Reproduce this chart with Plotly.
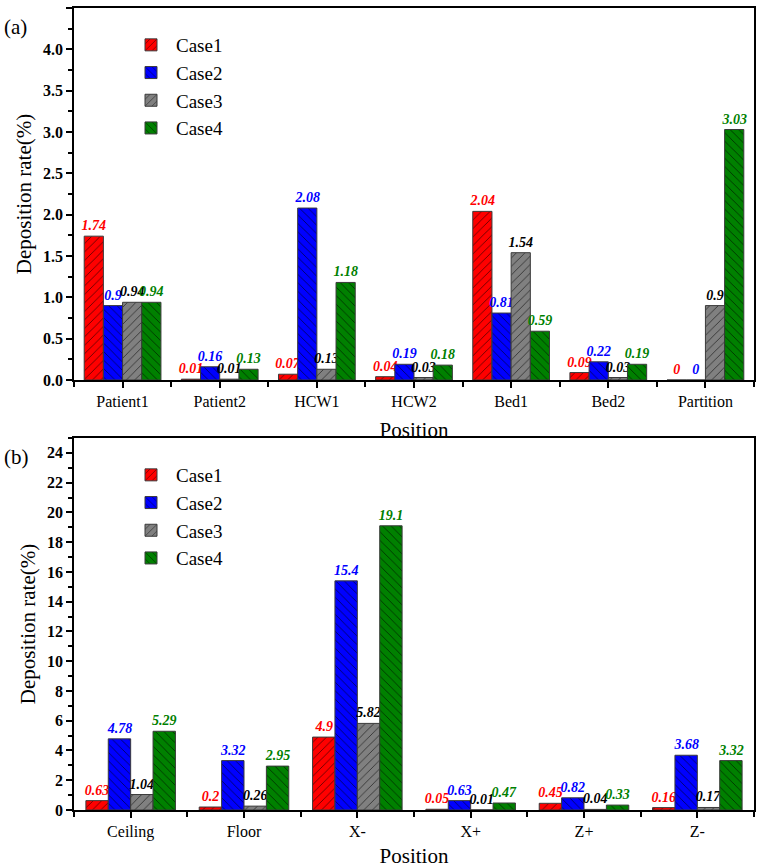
import plotly.graph_objects as go

# ---------------- data ----------------
top_categories = ["Patient1", "Patient2", "HCW1", "HCW2", "Bed1", "Bed2", "Partition"]
top_case1 = [1.74, 0.01, 0.07, 0.04, 2.04, 0.09, 0]
top_case2 = [0.9, 0.16, 2.08, 0.19, 0.81, 0.22, 0]
top_case3 = [0.94, 0.01, 0.13, 0.03, 1.54, 0.03, 0.9]
top_case4 = [0.94, 0.13, 1.18, 0.18, 0.59, 0.19, 3.03]

bottom_categories = ["Ceiling", "Floor", "X-", "X+", "Z+", "Z-"]
bottom_case1 = [0.63, 0.2, 4.9, 0.05, 0.45, 0.16]
bottom_case2 = [4.78, 3.32, 15.4, 0.63, 0.82, 3.68]
bottom_case3 = [1.04, 0.26, 5.82, 0.01, 0.04, 0.17]
bottom_case4 = [5.29, 2.95, 19.1, 0.47, 0.33, 3.32]

series_names = ["Case1", "Case2", "Case3", "Case4"]
bar_colors = ["#FF0000", "#0000FF", "#808080", "#008000"]
label_colors = ["#FF0000", "#0000FF", "#000000", "#008000"]
pattern_shapes = ["/", "\\", "/", "\\"]

# ---------------- layout helpers ----------------
W, H = 757, 868
FONT = "Liberation Serif"


def fx(p):
    return p / W


def fy(p):
    return 1 - p / H


fig = go.Figure()

panels = [
    (top_categories, [top_case1, top_case2, top_case3, top_case4], "x", "y", "legend"),
    (bottom_categories, [bottom_case1, bottom_case2, bottom_case3, bottom_case4], "x2", "y2", "legend2"),
]

for cats, series, xa, ya, lg in panels:
    xs = list(range(len(cats)))
    for i, vals in enumerate(series):
        fig.add_trace(go.Bar(
            x=xs, y=vals, name=series_names[i],
            xaxis=xa, yaxis=ya, legend=lg, showlegend=True,
            marker=dict(
                color=bar_colors[i],
                line=dict(color="#3a3a3a", width=1),
                pattern=dict(shape=pattern_shapes[i], fgcolor="#000000",
                             fgopacity=0.75, size=6, solidity=0.12),
            ),
            text=[f"{v:g}" for v in vals],
            textposition="outside",
            textangle=0,
            constraintext="none",
            cliponaxis=False,
            textfont=dict(family=FONT, size=14, color=label_colors[i],
                          weight="bold", style="italic"),
        ))

xdom = [fx(74), fx(754)]
axis_common = dict(showline=True, linecolor="#000000", linewidth=1.5, mirror=True,
                   showgrid=False, zeroline=False, automargin=False)


def xaxis_cfg(cats, anchor, standoff):
    n = len(cats)
    return dict(
        axis_common, domain=xdom, anchor=anchor,
        range=[-0.5, n - 0.5],
        tickmode="array", tickvals=list(range(n)), ticktext=cats,
        ticks="outside", ticklen=6, tickwidth=1.5, tickcolor="#000000",
        tickfont=dict(family=FONT, size=16, color="#000000"),
        minor=dict(tickmode="array", tickvals=[k + 0.5 for k in range(-1, n)],
                   ticks="outside", ticklen=5, tickwidth=1.5, tickcolor="#000000"),
        title=dict(text="Position", font=dict(family=FONT, size=21, color="#000000"), standoff=standoff),
    )


def yaxis_cfg(dom, rng, dtick, fmt, anchor):
    return dict(
        axis_common, domain=dom, anchor=anchor, range=rng,
        dtick=dtick, tick0=0, tickformat=fmt,
        ticks="outside", ticklen=6, tickwidth=1.5, tickcolor="#000000",
        tickfont=dict(family=FONT, size=16, color="#000000", weight="bold"),
        minor=dict(dtick=dtick / 2, ticks="outside", ticklen=4, tickwidth=1.5, tickcolor="#000000"),
        title=dict(text="Deposition rate(%)", font=dict(family=FONT, size=21, color="#000000"), standoff=6),
    )


legend_common = dict(
    font=dict(family=FONT, size=19, color="#000000"),
    bgcolor="rgba(0,0,0,0)", borderwidth=0,
    xanchor="left", yanchor="top", tracegroupgap=0, itemwidth=40,
)

fig.update_layout(
    width=W, height=H,
    margin=dict(l=0, r=0, t=0, b=0),
    paper_bgcolor="#FFFFFF", plot_bgcolor="#FFFFFF",
    barmode="group", bargap=0.21, bargroupgap=0,
    font=dict(family=FONT, color="#000000"),
    xaxis=xaxis_cfg(top_categories, "y", 13),
    yaxis=yaxis_cfg([fy(380), fy(8)], [0, 4.5], 0.5, ".1f", "x"),
    xaxis2=xaxis_cfg(bottom_categories, "y2", 12),
    yaxis2=yaxis_cfg([fy(810), fy(438)], [0, 25], 2, "d", "x2"),
    legend=dict(legend_common, x=fx(126), y=fy(26)),
    legend2=dict(legend_common, x=fx(126), y=fy(456)),
    annotations=[
        dict(text="(a)", x=fx(2), y=fy(27), xref="paper", yref="paper",
             xanchor="left", yanchor="middle", showarrow=False,
             font=dict(family=FONT, size=21, color="#000000")),
        dict(text="(b)", x=fx(2), y=fy(457), xref="paper", yref="paper",
             xanchor="left", yanchor="middle", showarrow=False,
             font=dict(family=FONT, size=21, color="#000000")),
    ],
)

fig.write_html(
    "out.html",
    config={"displayModeBar": False},
    post_script="document.body.style.margin='0';document.body.style.overflow='hidden';",
)
